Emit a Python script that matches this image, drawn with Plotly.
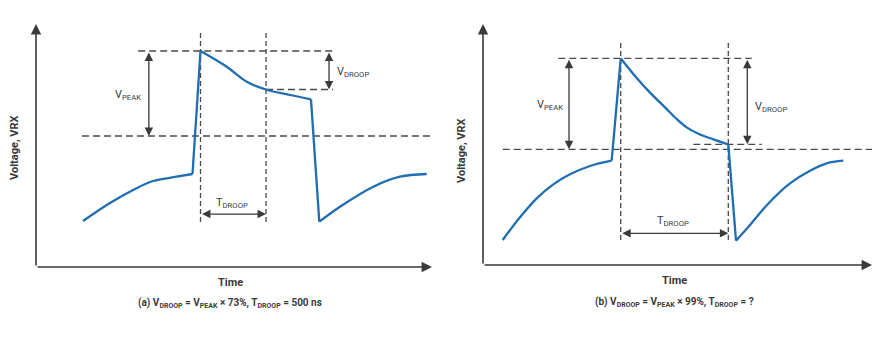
import plotly.graph_objects as go

# ---------------- data (arbitrary units: time 0-100, voltage 0-100) ----------------
# Panel (a)
time_a = [11.87, 18.69, 25.00, 29.55, 35.10, 39.52, 41.54, 48.16, 53.21, 58.08,
          64.14, 69.44, 71.54, 76.77, 85.18, 91.92, 98.66]
volt_a = [18.93, 26.34, 32.10, 35.39, 37.04, 38.27, 88.89, 82.43, 76.26, 73.05,
          70.78, 69.01, 18.64, 24.81, 33.05, 37.16, 38.27]
peak_a = 88.89        # V at peak
base_a = 53.9         # reference (zero) level
droop_a = 73.05       # V at end of T_DROOP
t_peak_a = 41.54
t_droop_a = 58.08

# Panel (b)
time_b = [5.06, 9.51, 13.80, 18.08, 22.37, 27.51, 33.08,
          35.40, 39.07, 42.93, 46.79, 49.79, 52.36, 55.36, 59.21, 63.06,
          65.04, 68.64, 73.78, 78.92, 84.06, 88.35, 92.62]
volt_b = [10.37, 19.78, 27.66, 33.47, 37.62, 41.08, 43.29,
          85.77, 78.42, 71.51, 65.42, 60.58, 57.12, 54.49, 52.15, 50.08,
          10.08, 16.60, 26.27, 33.90, 39.13, 42.20, 43.28]
peak_b = 85.77
base_b = 48.0
droop_b = 50.08
t_peak_b = 35.40
t_droop_b = 63.06

# corner indices (where the waveform changes abruptly)
corners_a = [5, 6, 11, 12]
corners_b = [6, 7, 15, 16]

captions = ["(a) V<sub>DROOP</sub> = V<sub>PEAK</sub> × 73%, T<sub>DROOP</sub> = 500 ns",
            "(b) V<sub>DROOP</sub> = V<sub>PEAK</sub> × 99%, T<sub>DROOP</sub> = ?"]

# ---------------- styling ----------------
W, H = 882, 339
BLUE = "#1f6db3"
DARK = "#3a3a3a"
DASH_COL = "#4a4a4a"
TXT = "#3a3a3a"
FONT = "Roboto"

fig = go.Figure()


def segments(xs, ys, corners):
    idx = [0] + corners + [len(xs) - 1]
    out = []
    for i in range(len(idx) - 1):
        a, b = idx[i], idx[i + 1]
        out.append((xs[a:b + 1], ys[a:b + 1]))
    return out


def add_panel(n, xs, ys, corners, peak, base, droop, tpk, tdr,
              top_ext, droop_ext, base_ext, vline_ext, vpeak_x, vdroop_x, tdroop_y):
    xa = "x" if n == 1 else "x2"
    ya = "y" if n == 1 else "y2"
    dashline = dict(color=DASH_COL, width=1.3, dash="7px,4px")
    vdash = dict(color=DASH_COL, width=1.3, dash="5px,3px")
    # horizontal dashed reference lines
    fig.add_trace(go.Scatter(x=list(top_ext), y=[peak, peak], mode="lines", line=dashline,
                             xaxis=xa, yaxis=ya, hoverinfo="skip"))
    fig.add_trace(go.Scatter(x=list(droop_ext), y=[droop, droop], mode="lines", line=dashline,
                             xaxis=xa, yaxis=ya, hoverinfo="skip"))
    fig.add_trace(go.Scatter(x=list(base_ext), y=[base, base], mode="lines", line=dashline,
                             xaxis=xa, yaxis=ya, hoverinfo="skip"))
    # vertical dashed lines
    for t in (tpk, tdr):
        fig.add_trace(go.Scatter(x=[t, t], y=list(vline_ext), mode="lines", line=vdash,
                                 xaxis=xa, yaxis=ya, hoverinfo="skip"))
    # waveform
    for sx, sy in segments(xs, ys, corners):
        fig.add_trace(go.Scatter(x=sx, y=sy, mode="lines",
                                 line=dict(color=BLUE, width=2.3, shape="spline", smoothing=1.0),
                                 xaxis=xa, yaxis=ya, hoverinfo="skip"))
    # axes with arrows
    arr = dict(showarrow=True, arrowhead=2, arrowsize=1.3, arrowwidth=1.6, arrowcolor=DARK,
               xref=xa, yref=ya, axref=xa, ayref=ya, text="", standoff=0, startstandoff=0)
    fig.add_annotation(x=100, y=0, ax=0, ay=0, **arr)
    fig.add_annotation(x=0, y=100, ax=0, ay=0, **arr)
    # double arrows
    darr = dict(showarrow=True, arrowhead=2, arrowsize=1.3, arrowwidth=1.3, arrowcolor=DARK,
                arrowside="end+start", xref=xa, yref=ya, axref=xa, ayref=ya, text="",
                standoff=0, startstandoff=0)
    fig.add_annotation(x=vpeak_x, y=base, ax=vpeak_x, ay=peak, **darr)
    fig.add_annotation(x=vdroop_x, y=droop, ax=vdroop_x, ay=peak, **darr)
    fig.add_annotation(x=tdr, y=tdroop_y, ax=tpk, ay=tdroop_y, **darr)


add_panel(1, time_a, volt_a, corners_a, peak_a, base_a, droop_a, t_peak_a, t_droop_a,
          top_ext=(25.8, 75.0), droop_ext=(t_droop_a, 75.0), base_ext=(11.6, 100),
          vline_ext=(18.5, 96.3), vpeak_x=28.5, vdroop_x=74.0, tdroop_y=21.8)
add_panel(2, time_b, volt_b, corners_b, peak_b, base_b, droop_b, t_peak_b, t_droop_b,
          top_ext=(19.36, 69.07), droop_ext=(54.06, 71.65), base_ext=(5.06, 100),
          vline_ext=(10.37, 93.4), vpeak_x=22.11, vdroop_x=67.94, tdroop_y=13.15)

# arrow labels
lab = dict(showarrow=False, yanchor="middle", font=dict(family=FONT, size=11, color=TXT))
fig.add_annotation(x=27.1, y=70.8, xref="x", yref="y", text="V<sub>PEAK</sub>", xanchor="right", **lab)
fig.add_annotation(x=75.5, y=80.4, xref="x", yref="y", text="V<sub>DROOP</sub>", xanchor="left", **lab)
fig.add_annotation(x=49.4, y=26.2, xref="x", yref="y", text="T<sub>DROOP</sub>", xanchor="center", **lab)
fig.add_annotation(x=21.1, y=66.4, xref="x2", yref="y2", text="V<sub>PEAK</sub>", xanchor="right", **lab)
fig.add_annotation(x=69.5, y=65.7, xref="x2", yref="y2", text="V<sub>DROOP</sub>", xanchor="left", **lab)
fig.add_annotation(x=48.8, y=18.3, xref="x2", yref="y2", text="T<sub>DROOP</sub>", xanchor="center", **lab)

# axis titles and captions
bold = dict(family=FONT, size=11, color=TXT, weight="bold")
for cx, ty, cy, yx, yy, cap in [(230, 282, 303, 15, 148, captions[0]),
                                 (674, 280, 302, 461, 150, captions[1])]:
    fig.add_annotation(x=cx / W, y=1 - ty / H, xref="paper", yref="paper", text="Time",
                       xanchor="center", yanchor="middle", showarrow=False, font=bold)
    fig.add_annotation(x=cx / W, y=1 - cy / H, xref="paper", yref="paper", text=cap,
                       xanchor="center", yanchor="middle", showarrow=False,
                       font=dict(family=FONT, size=10, color=TXT, weight="bold"))
    fig.add_annotation(x=yx / W, y=1 - yy / H, xref="paper", yref="paper", text="Voltage, VRX",
                       xanchor="center", yanchor="middle", showarrow=False, textangle=-90,
                       font=bold)

ax_common = dict(visible=False, range=[0, 100], fixedrange=True)
fig.update_layout(
    width=W, height=H, margin=dict(l=0, r=0, t=0, b=0),
    paper_bgcolor="white", plot_bgcolor="rgba(0,0,0,0)", showlegend=False,
    xaxis=dict(domain=[36 / W, 432 / W], **ax_common),
    yaxis=dict(domain=[1 - 267 / H, 1 - 24 / H], **ax_common),
    xaxis2=dict(domain=[483 / W, 872 / W], anchor="y2", **ax_common),
    yaxis2=dict(domain=[1 - 265 / H, 1 - 24 / H], anchor="x2", **ax_common),
)

fig.write_html("out.html", config={"displayModeBar": False})
